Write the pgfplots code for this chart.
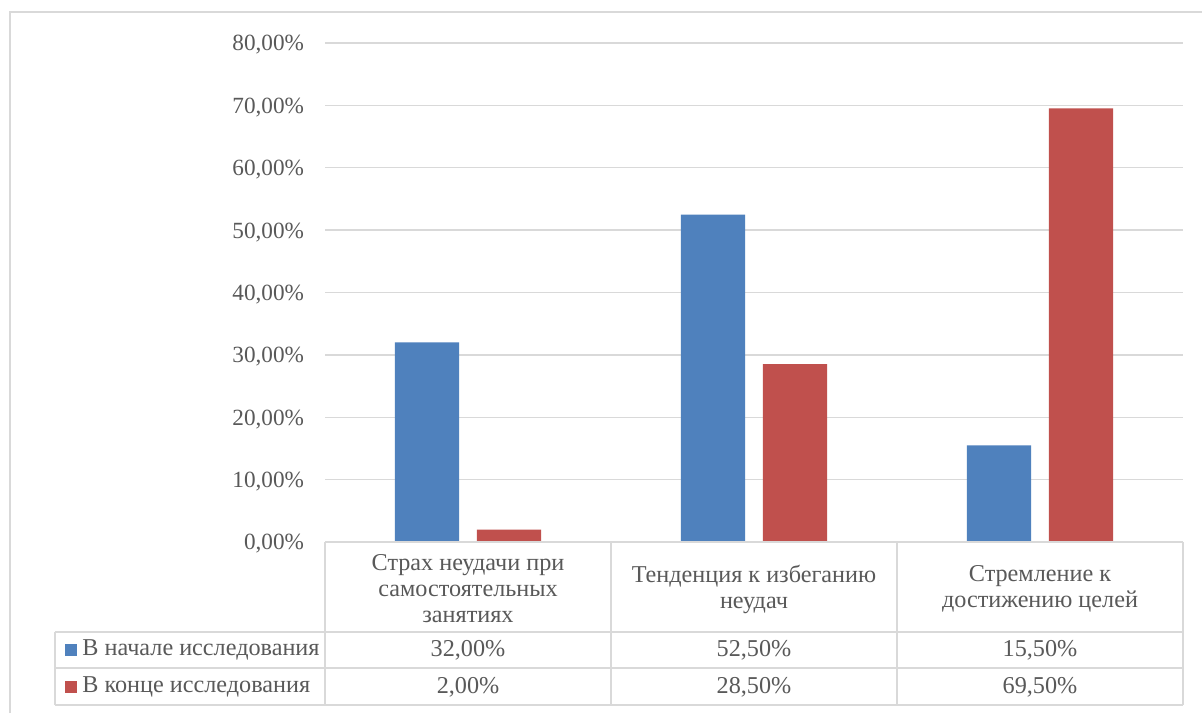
\documentclass[border=0pt]{standalone}
\usepackage{pgfplots}
\pgfplotsset{compat=1.18}
\usepackage{fontspec}
\setmainfont{Liberation Serif}
\definecolor{barblue}{HTML}{4F81BD}
\definecolor{barred}{HTML}{C0504D}
\definecolor{txt}{HTML}{595959}
\definecolor{rule}{HTML}{D9D9D9}

\begin{document}
\begin{tikzpicture}[font=\fontsize{11.6}{13}\selectfont,
  px/.style={x=0.5pt,y=-0.5pt,shift={(-325,-542)}}]
% canvas and outer frame
\begin{scope}[px]
  \path[use as bounding box] (0,0) rectangle (1202,713);
  \fill[white] (0,0) rectangle (1202,713);
  \draw[rule, line width=0.65pt] (10,713) -- (10,12) -- (1202,12);
\end{scope}

\begin{axis}[
  at={(0,0)}, anchor=south west,
  scale only axis, width=429pt, height=249.5pt,
  xmin=-0.5, xmax=2.5, xtick=\empty,
  ymin=0, ymax=80, ytick={0,10,...,80},
  axis line style={draw=none},
  major tick length=0pt,
  ymajorgrids, grid style={rule, line width=0.65pt},
  ybar, bar width=0.224,
  /pgf/number format/assume math mode=true,
  yticklabel={\pgfmathprintnumber[fixed,fixed zerofill,precision=2,use comma]{\tick}\%},
  yticklabel style={txt, xshift=-7pt, yshift=-1pt},
]
\addplot[fill=barblue, draw=none, bar shift=-0.1434] coordinates {(0,32) (1,52.5) (2,15.5)};
\addplot[fill=barred, draw=none, bar shift=0.1434] coordinates {(0,2) (1,28.5) (2,69.5)};
\end{axis}

% data table below the plot
\begin{scope}[px]
  \begin{scope}[rule, line width=0.65pt]
    \draw (325,542) -- (1183,542);
    \draw (55,632) -- (1183,632);
    \draw (55,668) -- (1183,668);
    \draw (55,705) -- (1183,705);
    \draw (55,632) -- (55,705);
    \foreach \x in {325,611,897,1183} \draw (\x,542) -- (\x,705);
  \end{scope}
  \begin{scope}[every node/.style={text=txt, align=center, inner sep=0pt,
      font=\fontsize{12.1}{13}\selectfont}]
    \node at (468,589) {Страх неудачи при\\самостоятельных\\занятиях};
    \node at (754,589) {Тенденция к избеганию\\неудач};
    \node at (1040,589) {Стремление к\\достижению целей};
    \node at (468,650) {32,00\%};
    \node at (754,650) {52,50\%};
    \node at (1040,650) {15,50\%};
    \node at (468,687) {2,00\%};
    \node at (754,687) {28,50\%};
    \node at (1040,687) {69,50\%};
    \node[anchor=west] at (82,650) {В начале исследования};
    \node[anchor=west] at (82,687) {В конце исследования};
  \end{scope}
  \fill[barblue] (65,644) rectangle (77,656);
  \fill[barred] (65,681) rectangle (77,693);
\end{scope}
\end{tikzpicture}
\end{document}
